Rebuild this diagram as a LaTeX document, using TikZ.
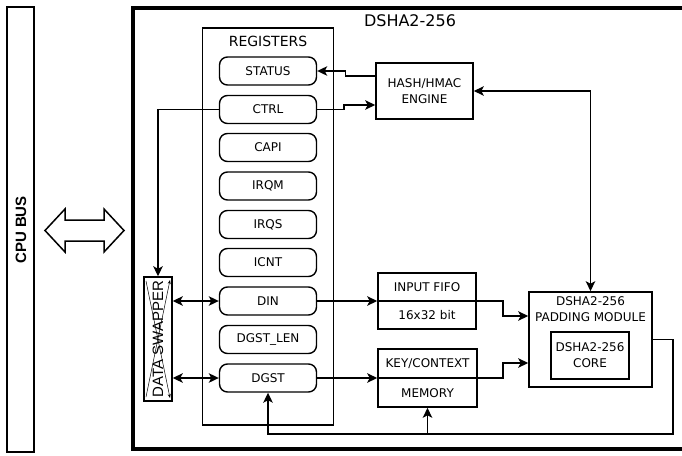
\documentclass[tikz,border=0pt]{standalone}
\usepackage{fontspec}
\setmainfont{DejaVu Sans}
\newfontfamily\arialfont{Liberation Sans}
\usetikzlibrary{arrows.meta,calc}
\begin{document}
\begin{tikzpicture}[x=1pt,y=-1pt,
  reg/.style={draw,line width=1.4pt,rounded corners=8pt,minimum width=97pt,minimum height=28pt,inner sep=0pt,font=\fontsize{12}{12}\selectfont},
  blk/.style={draw,line width=1.6pt,inner sep=0pt,align=center,font=\fontsize{12}{16}\selectfont},
  lbl/.style={inner sep=0pt,align=center,font=\fontsize{12}{16}\selectfont},
  conn/.style={line width=1.4pt},
  arr/.style={conn,-{Stealth[length=10pt,width=9.5pt,inset=2.5pt]}},
  darr/.style={conn,{Stealth[length=10pt,width=9.5pt,inset=2.5pt]}-{Stealth[length=10pt,width=9.5pt,inset=2.5pt]}},
]
\useasboundingbox (0,0) rectangle (682,455);
% CPU bus
\node[draw,line width=1.5pt,minimum width=27pt,minimum height=445pt,inner sep=0pt] (bus) at (20.5,229.5) {};
\node[rotate=90,inner sep=0pt,font=\arialfont\bfseries\fontsize{15}{15}\selectfont] (bustxt) at (21,230) {CPU BUS};
% block double arrow
\draw[line width=1.5pt,line join=miter] (45,230.5) -- (65,209) -- (65,220) -- (104,220) -- (104,209) -- (124,230.5) -- (104,252) -- (104,241) -- (65,241) -- (65,252) -- cycle;
% main box
\draw[line width=3.5pt] (690,8) -- (133,8) -- (133,449) -- (690,449);
\node[inner sep=0pt,font=\fontsize{16}{16}\selectfont] (title) at (410,21) {DSHA2-256};
% registers
\node[draw,line width=1.5pt,minimum width=131pt,minimum height=397pt,inner sep=0pt] (regs) at (268,226.5) {};
\node[inner sep=0pt,font=\fontsize{14}{14}\selectfont] (regstxt) at (268,41.5) {REGISTERS};
\node[reg] (status) at (268,71) {STATUS};
\node[reg] (ctrl) at (268,109.5) {CTRL};
\node[reg] (capi) at (268,147.5) {CAPI};
\node[reg] (irqm) at (268,186) {IRQM};
\node[reg] (irqs) at (268,224.5) {IRQS};
\node[reg] (icnt) at (268,262.5) {ICNT};
\node[reg] (din) at (268,301) {DIN};
\node[reg] (dgstlen) at (268,339.5) {DGST\_LEN};
\node[reg] (dgst) at (268,378) {DGST};
% data swapper
\node[draw,line width=1.5pt,minimum width=28pt,minimum height=124pt,inner sep=0pt] (swp) at (158,339) {};
\draw[line width=0.5pt,-{Stealth[length=4pt,width=3pt]}] (146,397) -- (170,280);
\draw[line width=0.5pt,-{Stealth[length=4pt,width=3pt]}] (146,281) -- (170,398);
\node[rotate=90,inner sep=0pt,font=\arialfont\fontsize{15}{15}\selectfont] (swptxt) at (158,339) {DATA SWAPPER};
% engine
\node[blk,minimum width=97pt,minimum height=56pt] (eng) at (424.5,91) {HASH/HMAC\\ENGINE};
% input fifo
\node[blk,minimum width=98pt,minimum height=56pt] (fifo) at (427,301) {};
\node[lbl] (fifot) at (427,287) {INPUT FIFO};
\node[lbl] (fifob) at (427,315) {16x32 bit};
% key/context
\node[blk,minimum width=99pt,minimum height=58pt] (key) at (427.5,378) {};
\node[lbl] (keyt) at (427.5,364) {KEY/CONTEXT};
\node[lbl] (keyb) at (427.5,393) {MEMORY};
% padding module
\node[blk,minimum width=123pt,minimum height=95pt] (pad) at (590.5,339.5) {};
\node[lbl] (padt) at (590.5,309) {DSHA2-256\\PADDING MODULE};
\node[blk,minimum width=78pt,minimum height=47pt] (core) at (590,355.5) {DSHA2-256\\CORE};
% connectors
\draw[arr] ($(eng.west)+(0,-15)$) -- ++(-30,0) |- (status.east);
\draw[arr] (ctrl.east) -- (344,109.5) |- ($(eng.west)+(0,14)$);
\draw[darr] (eng.east) -| (pad.north);
\draw[arr] (ctrl.west) -| (swp.north);
\draw[darr] (din.west -| swp.east) -- (din.west);
\draw[darr] (dgst.west -| swp.east) -- (dgst.west);
\draw[arr] (din.east) -- (fifo.west);
\draw[arr] (dgst.east) -- (key.west);
\draw[arr] (fifo.west) -- (fifo.east) -- (503,301) |- ($(pad.west)+(0,-23.5)$);
\draw[arr] (key.west) -- (key.east) -- (503,378) |- ($(pad.west)+(0,23.5)$);
\coordinate (r1) at (673,434);
\draw[arr] (pad.east) -| (r1) -| (dgst.south);
\draw[arr] (key.south |- r1) -- (key.south);
\end{tikzpicture}
\end{document}
